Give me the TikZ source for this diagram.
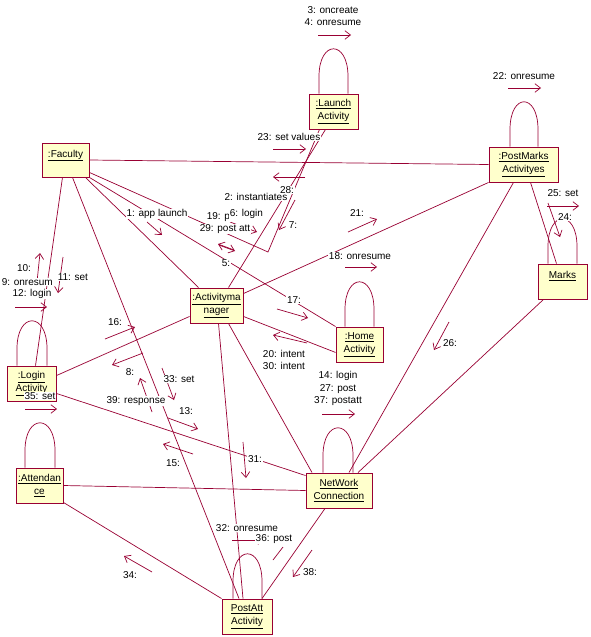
\documentclass[tikz,border=0pt]{standalone}
\usepackage{fontspec}
\setmainfont{Liberation Sans}
\usetikzlibrary{arrows.meta,calc}
\definecolor{lnk}{RGB}{153,0,51}
\definecolor{boxfill}{RGB}{255,255,204}
\newcommand\myloop[3]{\draw[link] ([xshift=#2pt]#1.north) -- ++(0,-17) .. controls +(0,-37) and +(0,-37) .. ++(#3,0) -- ++(0,17);}
\begin{document}
\begin{tikzpicture}[x=1pt,y=-1pt,
  obj/.style={draw=lnk, fill=boxfill, line width=0.9pt, align=center, font=\fontsize{10}{13}\selectfont, inner sep=0pt},
  link/.style={draw=lnk, line width=0.7pt},
  msg/.style={draw=lnk, line width=0.7pt, -{Straight Barb[length=5.5pt,width=8.5pt]}},
  lbl/.style={fill=white, inner sep=0.6pt, font=\fontsize{10}{12.5}\selectfont, align=center},
]
\useasboundingbox (0,0) rectangle (590,637);
\fill[white] (0,0) rectangle (590,637);

% objects
\node[obj,minimum width=47pt,minimum height=34pt] (fac) at (65.5,160) {\underline{:Faculty}\\\phantom{X}};
\node[obj,minimum width=49pt,minimum height=35pt] (launch) at (333.5,111.5) {\underline{:Launch}\\\underline{Activity}};
\node[obj,minimum width=69pt,minimum height=35pt] (pm) at (523.5,164.5) {\underline{:PostMarks}\\\underline{Activityes}};
\node[obj,minimum width=49pt,minimum height=35pt] (marks) at (562.5,281.5) {\underline{Marks}\\\phantom{X}};
\node[obj,minimum width=53pt,minimum height=35pt] (am) at (216.5,305.5) {\underline{:Activityma}\\\underline{nager}};
\node[obj,minimum width=47pt,minimum height=35pt] (home) at (359.5,344.5) {\underline{:Home}\\\underline{Activity}};
\node[obj,minimum width=49pt,minimum height=35pt] (login) at (31.5,383.5) {\underline{:Login}\\\underline{Activity}};
\node[obj,minimum width=47pt,minimum height=35pt] (att) at (39.5,485.5) {\underline{:Attendan}\\\underline{ce}};
\node[obj,minimum width=66pt,minimum height=35pt] (nw) at (339,490.5) {\underline{NetWork}\\\underline{Connection}};
\node[obj,minimum width=50pt,minimum height=35pt] (pa) at (247,616.5) {\underline{PostAtt}\\\underline{Activity}};

% links
\coordinate (bend) at (268,252);
\draw[link] (fac.east) -- (pm.west);
\draw[link] (fac.south east) -- (home.north west);
\draw[link] ([xshift=-4pt]fac.south east) -- ([xshift=9pt]am.north west);
\draw[link] ([yshift=5pt]fac.south east) -- (bend) -- ([xshift=-14pt]launch.south);
\draw[link] ([xshift=-3pt]fac.south) -- ([xshift=4pt]login.north);
\draw[link] ([xshift=7pt]fac.south) -- ([xshift=-8pt]pa.north);
\draw[link] ([xshift=-8pt]launch.south) -- ([xshift=12pt]am.north);
\draw[link] ([yshift=-6pt]am.north east) -- (pm.south west);
\draw[link] ([yshift=7pt]am.south east) -- ([yshift=10pt]home.south west);
\draw[link] ([yshift=7pt]am.south west) -- ([yshift=-10pt]login.north east);
\draw[link] ([xshift=12pt]am.south) -- ([xshift=-27pt]nw.north);
\draw[link] ([xshift=2pt]am.south) -- ([xshift=-4pt]pa.north);
\draw[link] ([yshift=8pt]login.south east) -- ([yshift=-3pt]nw.north west);
\draw[link] (att.east) -- (nw.west);
\draw[link] ([yshift=1pt]att.south east) -- (pa.north west);
\draw[link] ([xshift=-14pt]nw.south) -- ([xshift=15pt]pa.north);
\draw[link] ([xshift=-10pt]pm.south) -- ([xshift=10pt]nw.north);
\draw[link] ([xshift=-19pt]marks.south) -- ([xshift=19pt]nw.north);
\draw[link] ([xshift=7pt]pm.south) -- ([xshift=-6pt]marks.north);

% self loops
\myloop{launch}{-14.5}{29}
\myloop{pm}{-13.5}{28}
\myloop{marks}{-14.5}{29}
\myloop{home}{-14.5}{29}
\myloop{login}{-14.5}{30}
\myloop{att}{-14.5}{30}
\myloop{nw}{-16}{30}
\myloop{pa}{-14}{29}

% message arrows
\draw[msg] (147,222) -- (162,235);
\draw[msg] (230,222) -- (257,232);
\draw[msg] (234,250) -- (218,244);
\draw[msg] (219,245) -- (235,251);
\draw[msg] (295,200) -- (279,230);
\draw[msg] (273,149) -- (306,149);
\draw[msg] (305,177) -- (273,177);
\draw[msg] (318,35) -- (351,35);
\draw[msg] (508,88) -- (541,88);
\draw[msg] (348,232) -- (377,219);
\draw[msg] (345,267) -- (377,267);
\draw[msg] (277,309) -- (308,318);
\draw[msg] (307,343) -- (273,335);
\draw[msg] (322,414) -- (355,414);
\draw[msg] (547,206) -- (579,206);
\draw[msg] (548,203) -- (560,237);
\draw[msg] (449,322) -- (434,350);
\draw[msg] (37,282) -- (40,253);
\draw[msg] (63,257) -- (58,293);
\draw[msg] (15,307) -- (47,307);
\draw[msg] (105,339) -- (135,327);
\draw[msg] (143,353) -- (112,365);
\draw[msg] (162,368) -- (174,400);
\draw[msg] (152,412) -- (140,378);
\draw[msg] (168,418) -- (198,429);
\draw[msg] (193,454) -- (163,444);
\draw[msg] (243,442) -- (246,478);
\draw[msg] (25,409) -- (57,409);
\draw[msg] (232,540) -- (264,540);
\draw[link] (283,547) -- (273,560);
\draw[msg] (312,550) -- (293,577);
\draw[msg] (152,572) -- (124,556);

% labels
\node[lbl] (l34) at (333,16) {3: oncreate\\4: onresume};
\node[lbl] (l22) at (524,76) {22: onresume};
\node[lbl] (l23) at (289,137) {23: set values};
\node[lbl] (l2) at (256,197) {2: instantiates};
\node[lbl] (l28) at (287,190) {28:};
\node[lbl] (l1) at (157,214) {1: app launch};
\node[lbl,anchor=west] (l19) at (206,217) {19: p};
\node[lbl,anchor=west] (l6) at (229,214) {6: login};
\node[lbl] (l29) at (225,229) {29: post att};
\node[lbl] (l7) at (293,225) {7:};
\node[lbl] (l5) at (226,263) {5:};
\node[lbl] (l21) at (357,213) {21:};
\node[lbl] (l18) at (360,256) {18: onresume};
\node[lbl] (l17) at (294,300) {17:};
\node[lbl] (l20) at (284,360) {20: intent\\30: intent};
\node[lbl] (l14) at (338,388.5) {14: login\\27: post\\37: postatt};
\node[lbl] (l10) at (24,268) {10:};
\node[lbl,anchor=west] (l9) at (1,282) {9: onresum};
\node[lbl,anchor=west] (l11) at (57,277) {11: set};
\node[lbl] (l12) at (32,294) {12: login};
\node[lbl] (l16) at (115,322) {16:};
\node[lbl] (l8) at (130,372) {8:};
\node[lbl] (l33) at (179,379) {33: set};
\node[lbl] (l39) at (136,401) {39: response};
\node[lbl] (l13) at (186,411) {13:};
\node[lbl] (l15) at (173,463) {15:};
\node[lbl] (l31) at (255,459) {31:};
\node[lbl] (l35) at (40,396) {35: set};
\node[lbl] (l32) at (247,528) {32: onresume};
\node[lbl] (l36) at (274,539) {36: post};
\node[lbl] (l38) at (310,572) {38:};
\node[lbl] (l34b) at (130,575) {34:};
\node[lbl] (l26) at (450,343) {26:};
\node[lbl] (l25) at (563,193) {25: set};
\node[lbl] (l24) at (565,217) {24:};
\end{tikzpicture}
\end{document}
